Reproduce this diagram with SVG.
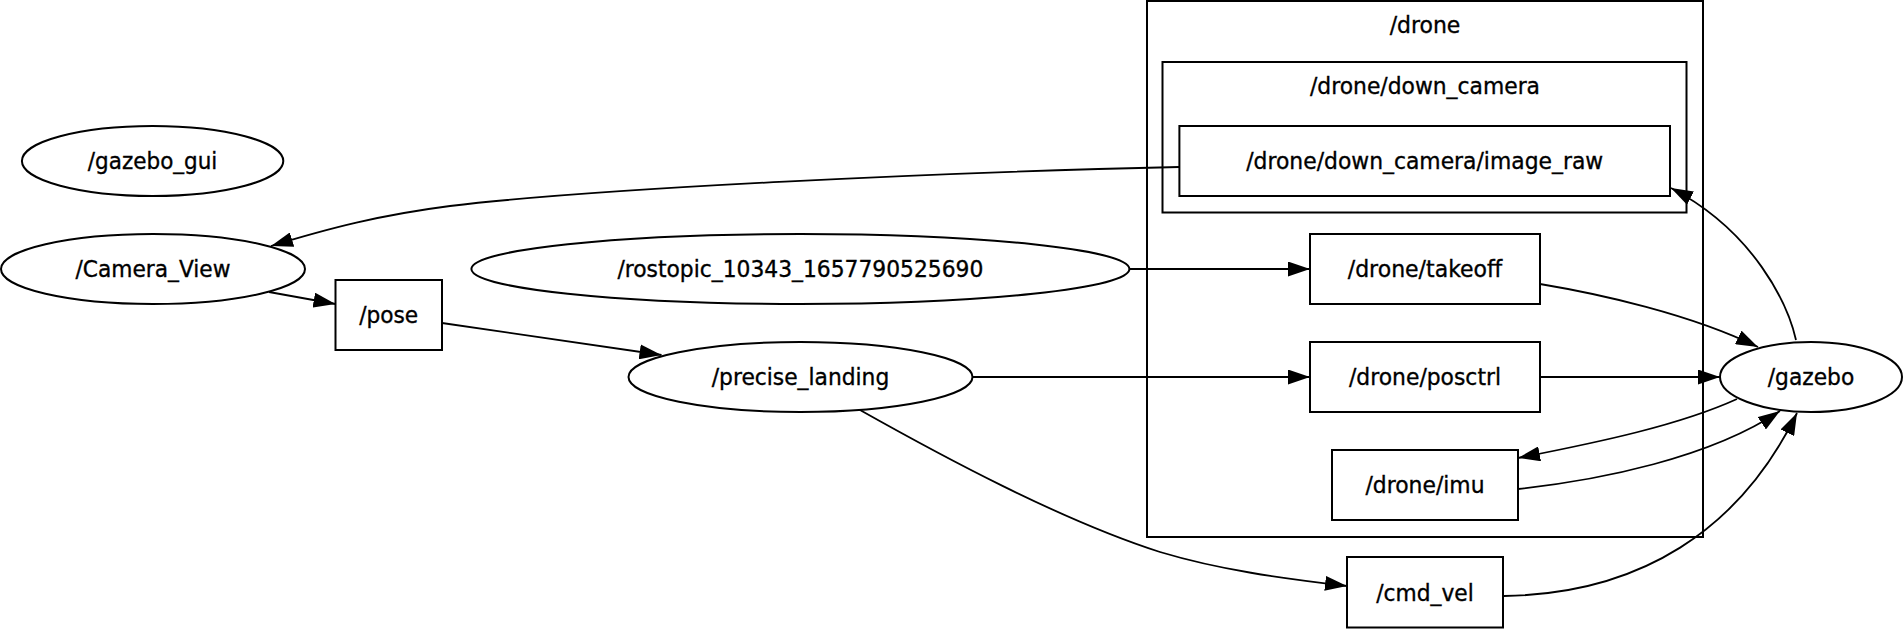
<svg xmlns="http://www.w3.org/2000/svg" width="1904" height="629" viewBox="0 0 1904 629">
<style>
  .shape { fill: #ffffff; stroke: #000000; stroke-width: 2; }
  .cluster { fill: none; stroke: #000000; stroke-width: 2; }
  .label { font-family: "DejaVu Sans", "Liberation Sans", sans-serif; font-size: 22.6px; fill: #000000; stroke: #000000; stroke-width: 0.35; text-anchor: middle; }
  .edge { fill: none; stroke: #000000; stroke-width: 1.8; marker-end: url(#arrow); }
</style>
<defs>
  <marker id="arrow" markerUnits="userSpaceOnUse" markerWidth="22" markerHeight="15" viewBox="0 0 22 15" refX="22" refY="7.5" orient="auto">
    <polygon points="0,0 22,7.5 0,15" fill="#000000"/>
  </marker>
</defs>
<rect width="1904" height="629" fill="#ffffff"/>

<g id="cluster_drone">
  <rect class="cluster" x="1147" y="1" width="556" height="536"/>
  <text class="label" x="1425" y="33" textLength="70.7" lengthAdjust="spacingAndGlyphs">/drone</text>
</g>
<g id="cluster_drone_down_camera">
  <rect class="cluster" x="1162.5" y="62" width="524" height="150.5"/>
  <text class="label" x="1425" y="94" textLength="230" lengthAdjust="spacingAndGlyphs">/drone/down_camera</text>
</g>

<g id="connectors">
  <path class="edge" d="M1179,167 C950,172 600,188 450,206 C380,215 330,228 271,246"/>
  <path class="edge" d="M269,292 L335.5,304"/>
  <path class="edge" d="M442,323 L661.5,355"/>
  <path class="edge" d="M1129,269 L1310,269"/>
  <path class="edge" d="M973,377 L1310,377"/>
  <path class="edge" d="M860,410 C940,455 1060,520 1160,552 C1220,570 1280,578 1347,586"/>
  <path class="edge" d="M1540,284 C1600,294 1690,314 1758,347"/>
  <path class="edge" d="M1540,377 L1720,377"/>
  <path class="edge" d="M1796,340 C1788,305 1755,232 1671,188"/>
  <path class="edge" d="M1737,399 C1680,425 1600,442 1518,458"/>
  <path class="edge" d="M1518,489 C1600,480 1710,458 1780,411"/>
  <path class="edge" d="M1504,596 C1640,594 1740,530 1797,413"/>
</g>

<g id="node_gazebo_gui">
  <ellipse class="shape" cx="152.6" cy="161" rx="130.7" ry="35"/>
  <text class="label" x="152.6" y="169" textLength="129.5" lengthAdjust="spacingAndGlyphs">/gazebo_gui</text>
</g>
<g id="node_Camera_View">
  <ellipse class="shape" cx="153" cy="269" rx="152" ry="35"/>
  <text class="label" x="153" y="277" textLength="155" lengthAdjust="spacingAndGlyphs">/Camera_View</text>
</g>
<g id="node_pose">
  <rect class="shape" x="335.5" y="280" width="106.5" height="70"/>
  <text class="label" x="388.7" y="323" textLength="59" lengthAdjust="spacingAndGlyphs">/pose</text>
</g>
<g id="node_rostopic">
  <ellipse class="shape" cx="800.4" cy="269" rx="329" ry="35"/>
  <text class="label" x="800.4" y="277" textLength="366" lengthAdjust="spacingAndGlyphs">/rostopic_10343_1657790525690</text>
</g>
<g id="node_precise_landing">
  <ellipse class="shape" cx="800.5" cy="377" rx="172" ry="35"/>
  <text class="label" x="800.5" y="385" textLength="177.5" lengthAdjust="spacingAndGlyphs">/precise_landing</text>
</g>
<g id="node_image_raw">
  <rect class="shape" x="1179.4" y="126" width="490.6" height="70"/>
  <text class="label" x="1424.7" y="169" textLength="357" lengthAdjust="spacingAndGlyphs">/drone/down_camera/image_raw</text>
</g>
<g id="node_takeoff">
  <rect class="shape" x="1310" y="234" width="230" height="70"/>
  <text class="label" x="1425" y="277" textLength="154.5" lengthAdjust="spacingAndGlyphs">/drone/takeoff</text>
</g>
<g id="node_posctrl">
  <rect class="shape" x="1310" y="342" width="230" height="70"/>
  <text class="label" x="1425" y="385" textLength="152" lengthAdjust="spacingAndGlyphs">/drone/posctrl</text>
</g>
<g id="node_imu">
  <rect class="shape" x="1332" y="450" width="186" height="70"/>
  <text class="label" x="1425" y="493" textLength="119" lengthAdjust="spacingAndGlyphs">/drone/imu</text>
</g>
<g id="node_cmd_vel">
  <rect class="shape" x="1347" y="557" width="156" height="70.5"/>
  <text class="label" x="1425" y="600.5" textLength="97.5" lengthAdjust="spacingAndGlyphs">/cmd_vel</text>
</g>
<g id="node_gazebo">
  <ellipse class="shape" cx="1811" cy="377" rx="91" ry="35"/>
  <text class="label" x="1811" y="385" textLength="86.5" lengthAdjust="spacingAndGlyphs">/gazebo</text>
</g>
</svg>
